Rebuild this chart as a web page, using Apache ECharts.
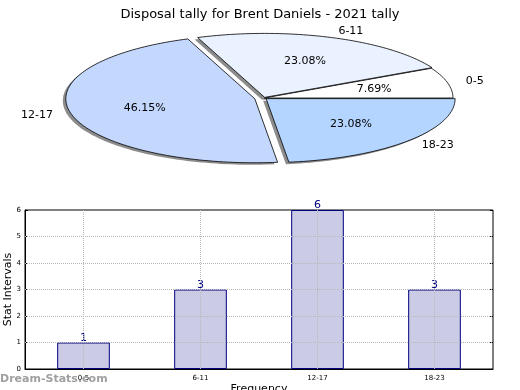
<!DOCTYPE html>
<html><head><meta charset="utf-8">
<script src="https://cdn.jsdelivr.net/npm/echarts@6/dist/echarts.min.js"></script>
<style>html,body{margin:0;padding:0;background:#fff}#c{width:520px;height:390px}</style>
</head><body><div id="c"></div>
<script>
const titleText = 'Disposal tally for Brent Daniels - 2021 tally';
const categories = ['0-5', '6-11', '12-17', '18-23'];
const counts = [1, 3, 6, 3];
const yTicks = [0, 1, 2, 3, 4, 5, 6];
const yAxisName = 'Stat Intervals';
const xAxisName = 'Frequency';
const watermark = 'Dream-Stats.com';

const FONT = '"DejaVu Sans", sans-serif';
const pieColors = ['#ffffff', '#eaf1ff', '#c4d8fe', '#b4d5ff'];
const explode = [0, 0.01, 0.05, 0.015];
const PIE = { cx: 264, cy: 98, rx: 189, ry: 64 };

const total = counts.reduce((a, b) => a + b, 0);
const cum = []; let acc = 0; counts.forEach(v => { cum.push(acc); acc += v; });

function slice(i, val, dx, dy) {
  const a0 = cum[i] / total * 2 * Math.PI, a1 = (cum[i] + val) / total * 2 * Math.PI;
  const mid = (a0 + a1) / 2;
  const cx = PIE.cx + explode[i] * PIE.rx * Math.cos(mid) + dx;
  const cy = PIE.cy - explode[i] * PIE.ry * Math.sin(mid) + dy;
  const pts = [[cx, cy]];
  const n = Math.max(10, Math.ceil((a1 - a0) / (2 * Math.PI) * 240));
  for (let k = 0; k <= n; k++) {
    const t = a0 + (a1 - a0) * k / n;
    pts.push([cx + PIE.rx * Math.cos(t), cy - PIE.ry * Math.sin(t)]);
  }
  return { pts, cx, cy, mid };
}

function renderShadow(params, api) {
  const s = slice(params.dataIndex, api.value(0), -3, 2);
  return { type: 'polygon', shape: { points: s.pts }, style: { fill: 'rgba(0,0,0,0.45)' } };
}
function renderSlice(params, api) {
  const i = params.dataIndex;
  const v = api.value(0);
  const s = slice(i, v, 0, 0);
  const pct = (v / total * 100).toFixed(2) + '%';
  const px = s.cx + 0.6 * PIE.rx * Math.cos(s.mid), py = s.cy - 0.6 * PIE.ry * Math.sin(s.mid);
  const lx = s.cx + 1.1 * PIE.rx * Math.cos(s.mid), ly = s.cy - 1.1 * PIE.ry * Math.sin(s.mid);
  return { type: 'group', children: [
    { type: 'polygon', shape: { points: s.pts }, style: { fill: pieColors[i], stroke: '#000', lineWidth: 0.8 } },
    { type: 'text', x: px, y: py, style: { text: pct, align: 'center', verticalAlign: 'middle', font: '11px ' + FONT, fill: '#000' } },
    { type: 'text', x: lx, y: ly, style: { text: categories[i], align: Math.cos(s.mid) > 0 ? 'left' : 'right', verticalAlign: 'middle', font: '11px ' + FONT, fill: '#000' } }
  ] };
}

const gridLine = { color: '#b8b8b8', type: 'dotted', width: 1 };
const chart = echarts.init(document.getElementById('c'), null, { renderer: 'canvas' });
chart.setOption({
  animation: false,
  backgroundColor: '#fff',
  textStyle: { fontFamily: FONT },
  title: { text: titleText, left: 'center', top: 3, textStyle: { fontSize: 13, fontWeight: 'normal', color: '#000', fontFamily: FONT } },
  graphic: [{ type: 'text', left: 0, top: 374, z: 100, style: { text: watermark, font: 'bold 11px ' + FONT, fill: '#a0a0a0' } }],
  grid: { left: 25, right: 27, top: 210, bottom: 21, show: true, borderColor: '#000', borderWidth: 1, containLabel: false, outerBoundsMode: 'none' },
  xAxis: {
    type: 'category', data: categories,
    name: xAxisName, nameLocation: 'middle', nameGap: 15, nameTextStyle: { fontSize: 11, color: '#000' },
    axisLine: { lineStyle: { color: '#000' } },
    axisTick: { alignWithLabel: true, inside: true, length: 3, lineStyle: { color: '#000' } },
    axisLabel: { fontSize: 7, color: '#000', margin: 6 },
    splitLine: { show: false }
  },
  yAxis: [{
    type: 'value', min: yTicks[0], max: yTicks[yTicks.length - 1], interval: 1,
    name: yAxisName, nameLocation: 'middle', nameGap: 11, nameMoveOverlap: false, nameTextStyle: { fontSize: 11, color: '#000' },
    axisLine: { show: true, lineStyle: { color: '#000' } },
    axisTick: { show: true, inside: true, length: 3, lineStyle: { color: '#000' } },
    axisLabel: { fontSize: 7, color: '#000', margin: 4 },
    splitLine: { show: false }
  }, {
    type: 'value', position: 'right', min: yTicks[0], max: yTicks[yTicks.length - 1], interval: 1,
    axisLine: { show: false }, axisLabel: { show: false },
    axisTick: { show: true, inside: true, length: 3, lineStyle: { color: '#000' } },
    splitLine: { show: false }
  }],
  series: [
    { type: 'custom', coordinateSystem: 'none', renderItem: renderShadow, data: counts, z: 1, silent: true },
    { type: 'custom', coordinateSystem: 'none', renderItem: renderSlice, data: counts, z: 2, silent: true },
    {
      type: 'bar', data: counts, barWidth: '45%', z: 3,
      itemStyle: { color: '#cbcbe5', borderColor: '#000080', borderWidth: 1 },
      label: { show: true, position: 'top', distance: -1, color: '#000080', fontSize: 11, fontFamily: FONT },
      markLine: {
        silent: true, symbol: 'none', label: { show: false }, lineStyle: gridLine,
        data: yTicks.slice(1, -1).map(v => ({ yAxis: v })).concat(categories.map(c => ({ xAxis: c })))
      }
    }
  ]
});
</script></body></html>
